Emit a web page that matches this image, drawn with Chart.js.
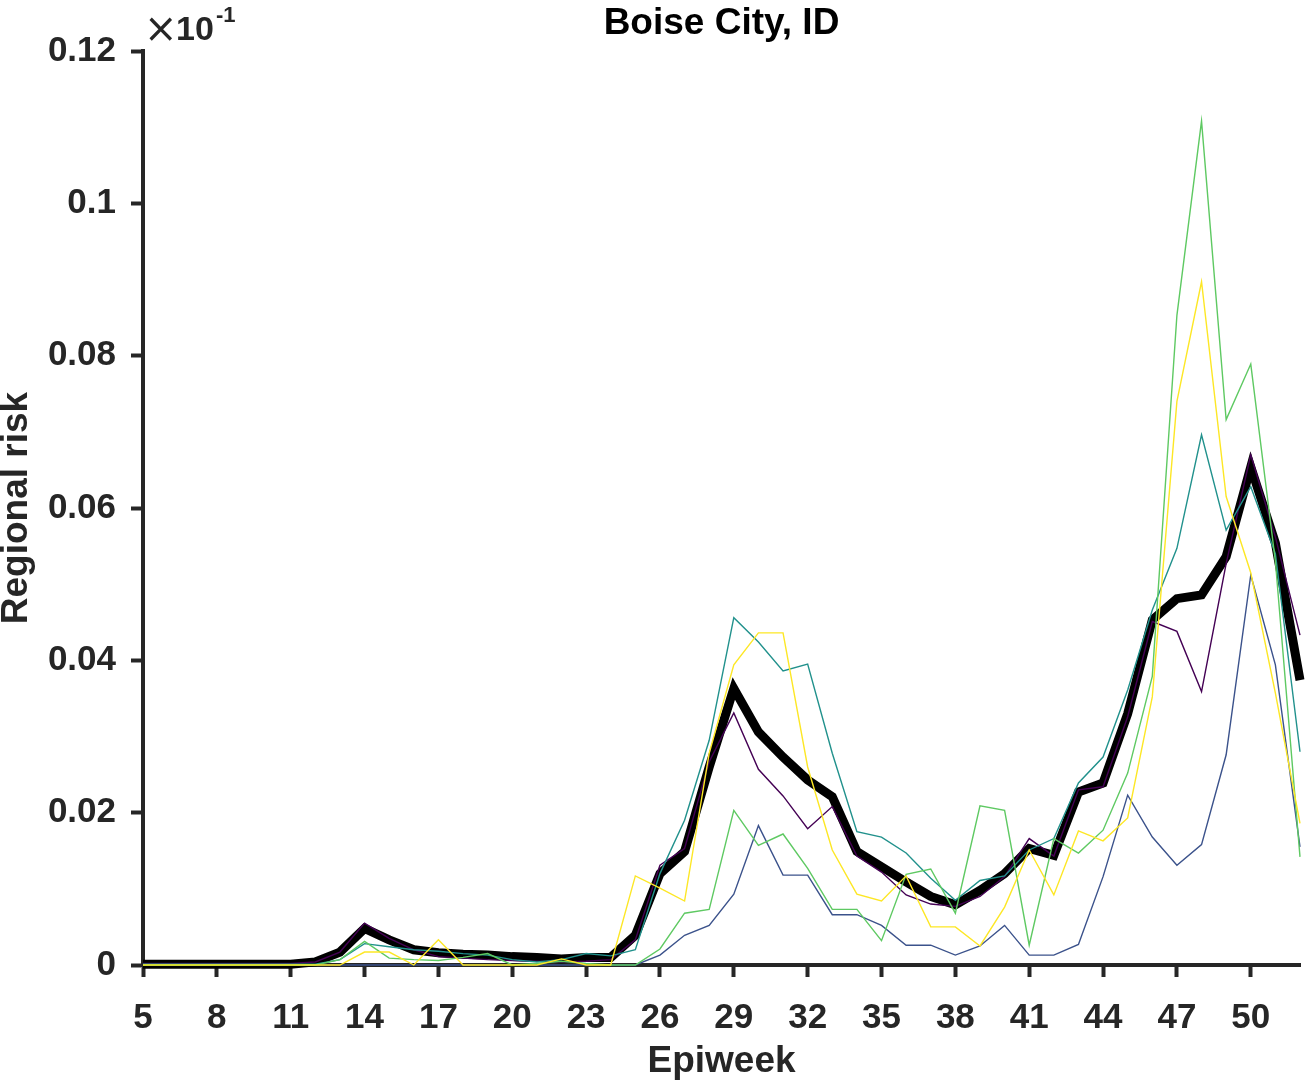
<!DOCTYPE html>
<html>
<head>
<meta charset="utf-8">
<script src="https://cdn.jsdelivr.net/npm/chart.js@4.4.1/dist/chart.umd.min.js"></script>
<style>
  html, body { margin: 0; padding: 0; background: #fff; }
  #wrap { width: 1310px; height: 1086px; position: relative; }
</style>
</head>
<body>
<div id="wrap"><canvas id="Chart_boise"></canvas></div>
<script>
// epiweeks 5..52
var weeks = [5, 6, 7, 8, 9, 10, 11, 12, 13, 14, 15, 16, 17, 18, 19, 20, 21, 22, 23, 24, 25, 26, 27, 28,
  29, 30, 31, 32, 33, 34, 35, 36, 37, 38, 39, 40, 41, 42, 43, 44, 45, 46, 47, 48, 49, 50, 51, 52];

var xTicks = [5, 8, 11, 14, 17, 20, 23, 26, 29, 32, 35, 38, 41, 44, 47, 50];
var yTicks = [0, 0.02, 0.04, 0.06, 0.08, 0.1, 0.12];
var yTickLabels = ['0', '0.02', '0.04', '0.06', '0.08', '0.1', '0.12'];

var seriesPurple = [0.0002, 0.0002, 0.0002, 0.0002, 0.0002, 0.0002, 0.0002, 0.0004, 0.0017, 0.0055, 0.0035, 0.002,
  0.0011, 0.0009, 0.0007, 0.0006, 0.0005, 0.0004, 0.0005, 0.0007, 0.0033, 0.0131, 0.0153, 0.0267,
  0.0331, 0.0257, 0.0222, 0.0179, 0.0208, 0.0143, 0.0122, 0.0092, 0.008, 0.0077, 0.009, 0.0116,
  0.0166, 0.0143, 0.023, 0.0234, 0.0326, 0.0451, 0.0438, 0.0359, 0.0527, 0.067, 0.0562, 0.0433];

var seriesBlue = [0, 0, 0, 0, 0, 0, 0, 0, 0, 0, 0, 0,
  0, 0, 0, 0, 0, 0, 0, 0, 0, 0.0013, 0.0039, 0.0052,
  0.0093, 0.0183, 0.0118, 0.0118, 0.0066, 0.0066, 0.0052, 0.0026, 0.0026, 0.0013, 0.0025, 0.0052,
  0.0013, 0.0013, 0.0027, 0.0116, 0.0223, 0.0168, 0.0131, 0.0158, 0.0276, 0.0512, 0.0394, 0.0155];

var seriesTeal = [0.0001, 0.0001, 0.0001, 0.0001, 0.0001, 0.0001, 0.0001, 0.0001, 0.0007, 0.0028, 0.0024, 0.002,
  0.0018, 0.0015, 0.0013, 0.0007, 0.0004, 0.0007, 0.0015, 0.0012, 0.002, 0.012, 0.019, 0.0295,
  0.0456, 0.0424, 0.0386, 0.0395, 0.0278, 0.0175, 0.0168, 0.0147, 0.0114, 0.0085, 0.0111, 0.0117,
  0.0151, 0.0166, 0.0239, 0.0273, 0.0361, 0.0466, 0.0547, 0.0696, 0.0571, 0.0628, 0.054, 0.028];

var seriesGreen = [0, 0, 0, 0, 0, 0, 0, 0, 0.0007, 0.0031, 0.0009, 0.0007,
  0.0006, 0.001, 0.0015, 0, 0.0002, 0.0005, 0.0002, 0, 0, 0.0021, 0.0068, 0.0073,
  0.0203, 0.0157, 0.0172, 0.0127, 0.0073, 0.0073, 0.0032, 0.0119, 0.0126, 0.0068, 0.0209, 0.0203,
  0.0026, 0.0166, 0.0147, 0.0177, 0.0252, 0.0379, 0.0853, 0.1108, 0.0716, 0.0789, 0.053, 0.0142];

var seriesYellow = [0, 0, 0, 0, 0, 0, 0, 0, 0, 0.0017, 0.0017, 0,
  0.0033, 0, 0, 0, 0, 0.0008, 0, 0, 0.0117, 0.0101, 0.0084, 0.0278,
  0.0394, 0.0436, 0.0436, 0.026, 0.0151, 0.0093, 0.0084, 0.0117, 0.005, 0.005, 0.0025, 0.0076,
  0.0151, 0.0092, 0.0176, 0.0163, 0.0193, 0.0352, 0.074, 0.0897, 0.0615, 0.0515, 0.0357, 0.0186];

var seriesMean = [0.0001, 0.0001, 0.0001, 0.0001, 0.0001, 0.0001, 0.0001, 0.0004, 0.0017, 0.0048, 0.0033, 0.002,
  0.0016, 0.0014, 0.0013, 0.0011, 0.001, 0.0008, 0.001, 0.001, 0.0039, 0.012, 0.0149, 0.026,
  0.0363, 0.0306, 0.0273, 0.0243, 0.0221, 0.0149, 0.0129, 0.0109, 0.009, 0.0079, 0.0098, 0.012,
  0.0153, 0.0144, 0.0227, 0.0239, 0.033, 0.0453, 0.0481, 0.0486, 0.0536, 0.0654, 0.0554, 0.0374];

var axisColor = '#262626';
var fontFamily = '"Liberation Sans", Arial, Helvetica, sans-serif';

function toPoints(values) {
  return values.map(function (v, i) { return { x: weeks[i], y: v }; });
}

function lineSet(values, color, width) {
  return {
    data: toPoints(values),
    borderColor: color,
    backgroundColor: color,
    borderWidth: width,
    pointRadius: 0,
    tension: 0,
    fill: false,
    clip: 8
  };
}

// title and the x10^-1 multiplier, drawn at fixed spots
var textPlugin = {
  id: 'textPlugin',
  afterDraw: function (chart) {
    var ctx = chart.ctx;
    ctx.save();
    ctx.fillStyle = '#000';
    ctx.textBaseline = 'middle';
    ctx.textAlign = 'center';
    ctx.font = 'bold 37px ' + fontFamily;
    ctx.fillText('Boise City, ID', (chart.chartArea.left + chart.chartArea.right) / 2, 24);

    ctx.fillStyle = axisColor;
    ctx.textAlign = 'left';
    ctx.textBaseline = 'alphabetic';
    ctx.font = '40px "DejaVu Sans", ' + fontFamily;
    ctx.fillText('\u00d7', 144, 42);
    ctx.font = 'bold 34px ' + fontFamily;
    ctx.fillText('10', 176, 40);
    ctx.font = 'bold 22px ' + fontFamily;
    ctx.fillText('-1', 216, 22);
    ctx.restore();
  }
};

// yellow first so it ends up on top, black mean last so it sits underneath
var datasets = [
  lineSet(seriesYellow, '#fde725', 1.4),
  lineSet(seriesGreen, '#5ec962', 1.4),
  lineSet(seriesTeal, '#21918c', 1.4),
  lineSet(seriesBlue, '#3b528b', 1.4),
  lineSet(seriesPurple, '#440154', 1.4),
  lineSet(seriesMean, '#000000', 9)
];

var ctx = document.getElementById('Chart_boise').getContext('2d');
new Chart(ctx, {
  type: 'line',
  data: { datasets: datasets },
  options: {
    responsive: true,
    maintainAspectRatio: false,
    animation: false,
    events: [],
    layout: { padding: { left: 0, right: 10, top: 51, bottom: 0 } },
    plugins: {
      legend: { display: false },
      tooltip: { enabled: false },
      title: { display: false }
    },
    scales: {
      x: {
        type: 'linear',
        min: 5,
        max: 52,
        afterBuildTicks: function (axis) {
          axis.ticks = xTicks.map(function (v) { return { value: v }; });
        },
        afterFit: function (axis) { axis.height = 121; },
        grid: { drawOnChartArea: false, drawTicks: true, tickLength: 12, tickWidth: 4, tickColor: axisColor },
        border: { display: true, width: 4, color: axisColor },
        ticks: {
          padding: 20,
          maxRotation: 0,
          autoSkip: false,
          color: axisColor,
          font: { family: fontFamily, size: 35, weight: 'bold' }
        },
        title: {
          display: true,
          text: 'Epiweek',
          color: axisColor,
          padding: { top: 0, bottom: 2 },
          font: { family: fontFamily, size: 37, weight: 'bold' }
        }
      },
      y: {
        type: 'linear',
        min: 0,
        max: 0.12,
        afterBuildTicks: function (axis) {
          axis.ticks = yTicks.map(function (v) { return { value: v }; });
        },
        afterFit: function (axis) { axis.width = 143; },
        grid: { drawOnChartArea: false, drawTicks: true, tickLength: 12, tickWidth: 4, tickColor: axisColor },
        border: { display: true, width: 4, color: axisColor },
        ticks: {
          padding: 15,
          autoSkip: false,
          color: axisColor,
          font: { family: fontFamily, size: 35, weight: 'bold' },
          callback: function (value) {
            var i = yTicks.indexOf(value);
            return i >= 0 ? yTickLabels[i] : '';
          }
        },
        title: {
          display: true,
          text: 'Regional risk',
          color: axisColor,
          padding: { top: 0, bottom: 0 },
          font: { family: fontFamily, size: 37, weight: 'bold', lineHeight: 0.9 }
        }
      }
    }
  },
  plugins: [textPlugin]
});
</script>
</body>
</html>
